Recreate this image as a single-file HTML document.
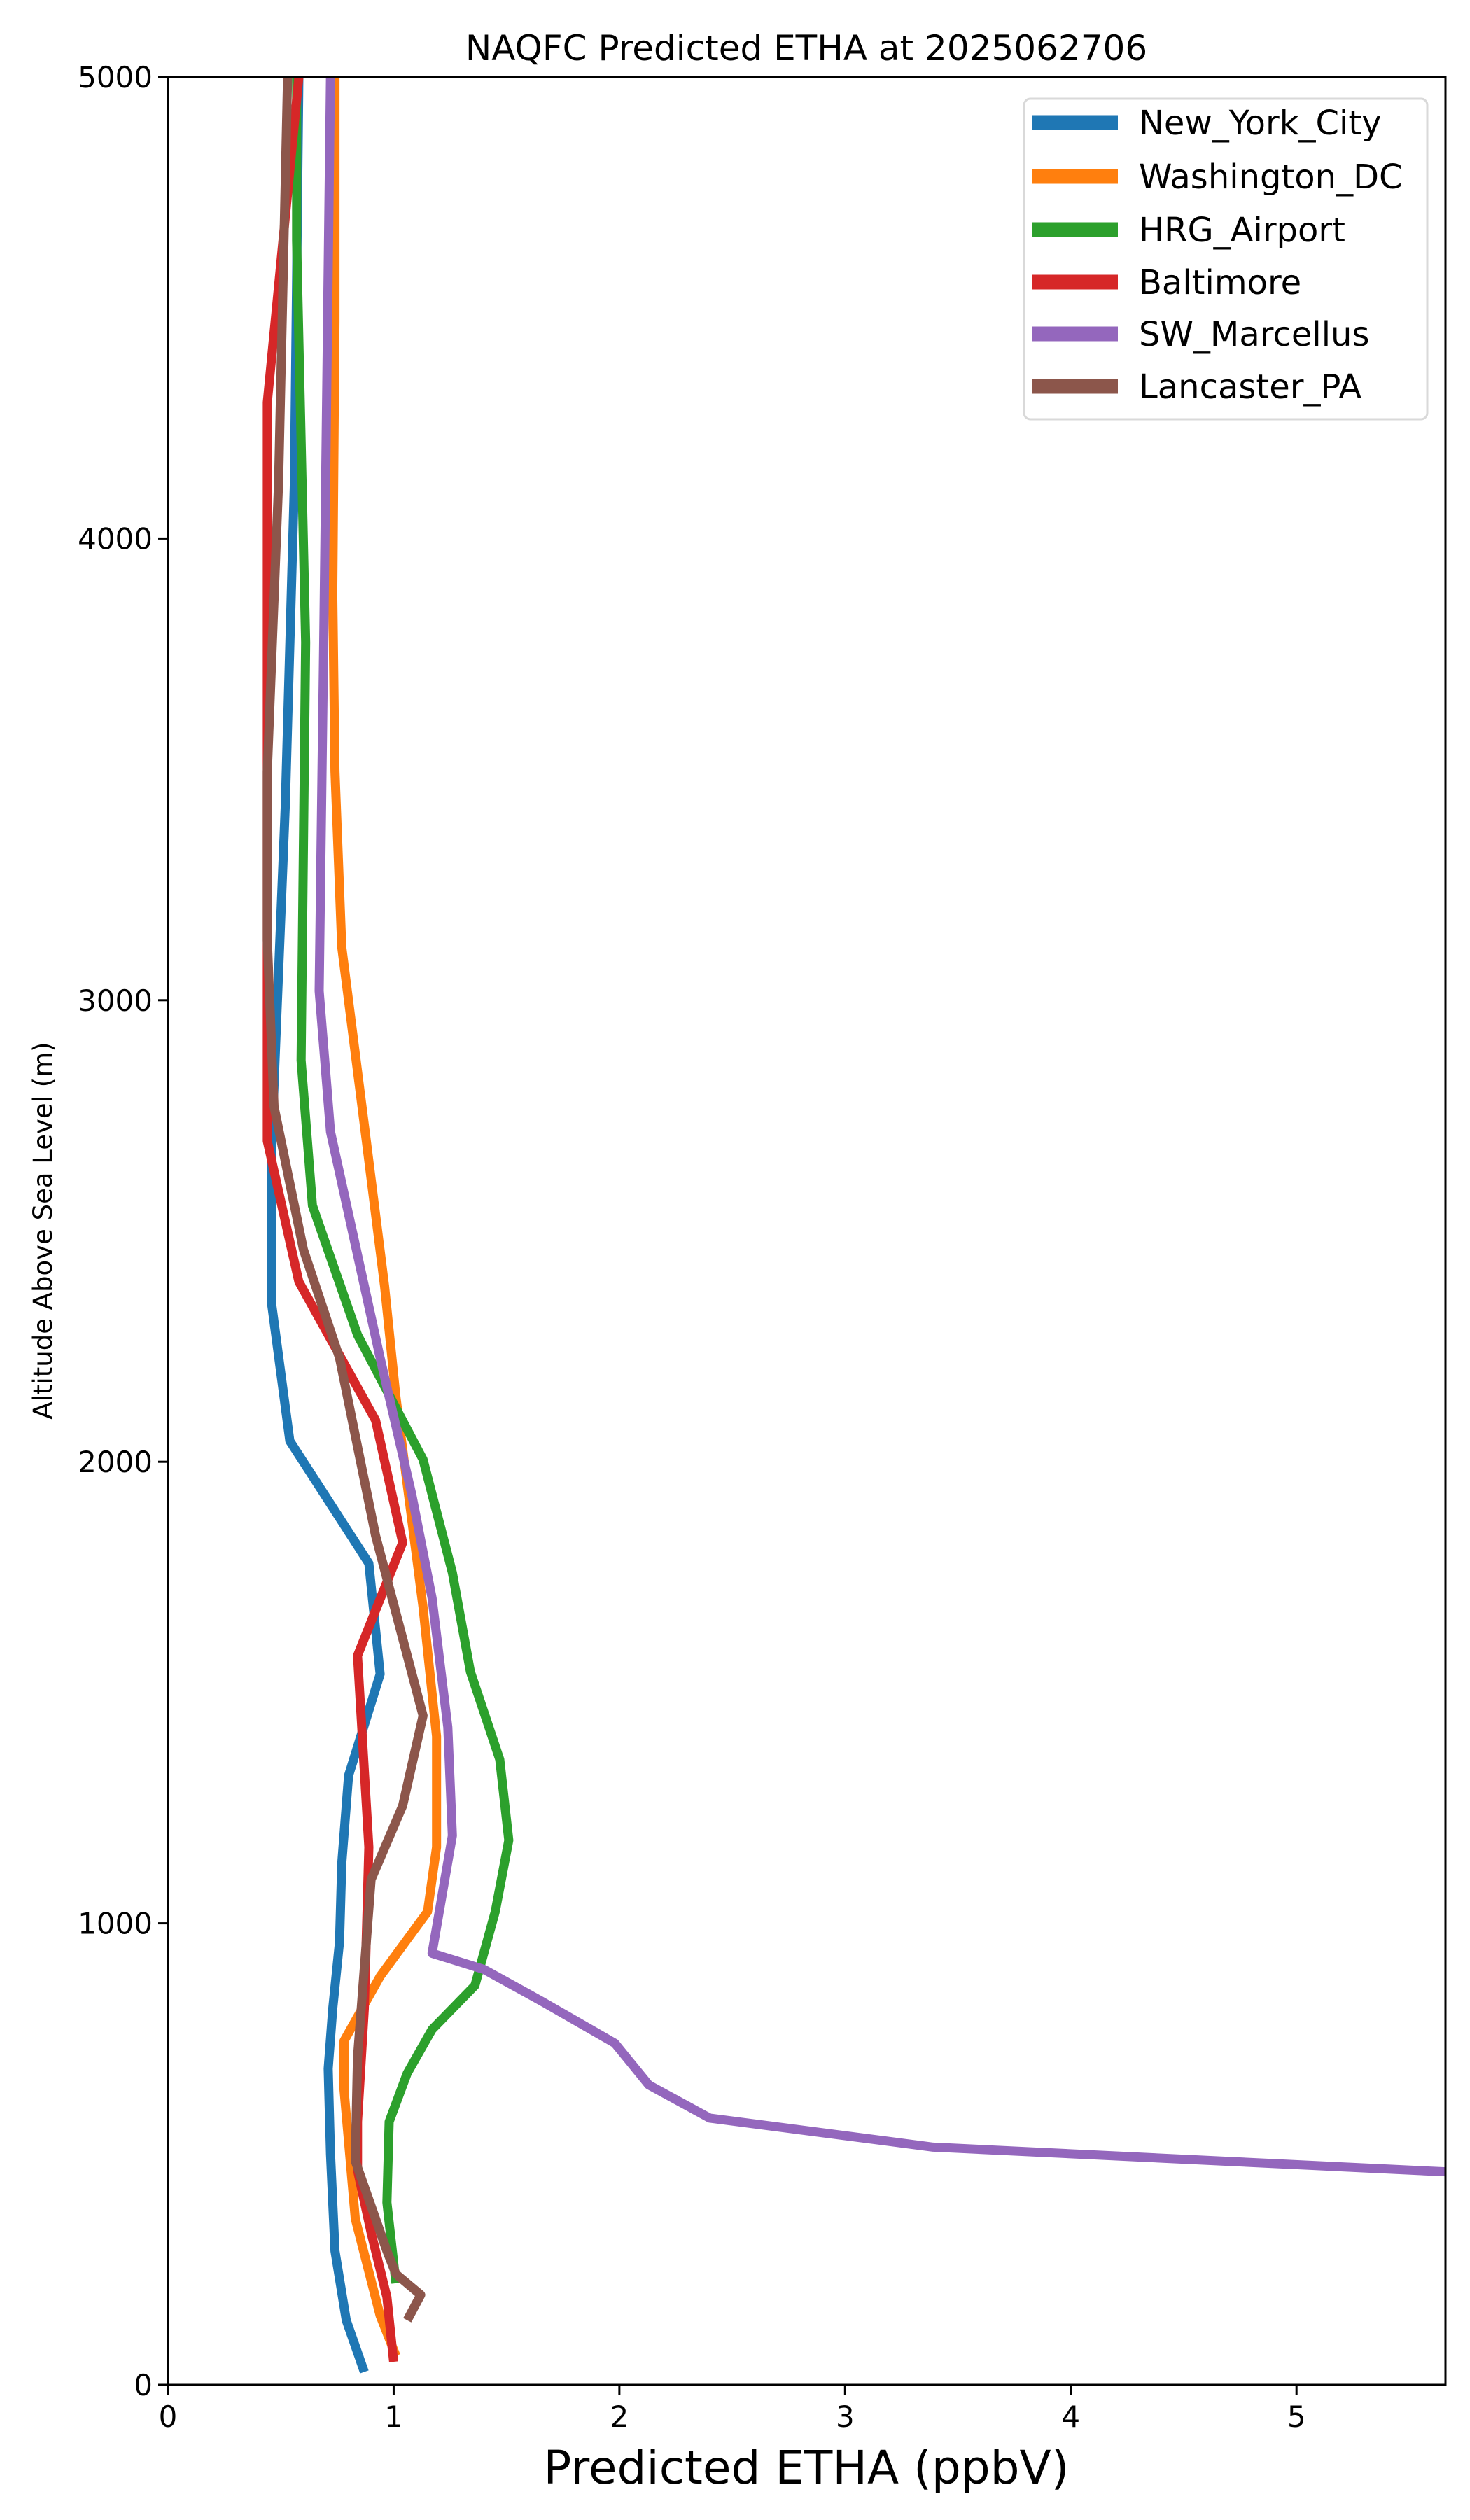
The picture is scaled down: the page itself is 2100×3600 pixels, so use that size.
<!DOCTYPE html>
<html><head><meta charset="utf-8"><style>
html,body{margin:0;padding:0;background:#fff;}
svg{display:block;font-family:"DejaVu Sans","Liberation Sans",sans-serif;}
</style></head><body>
<svg id="chart" width="2100" height="3600" viewBox="0 0 2100 3600" xmlns="http://www.w3.org/2000/svg">
<rect x="0" y="0" width="2100" height="3600" fill="#fff"/>
<defs><clipPath id="plotclip"><rect x="240" y="110" width="1825" height="3297"/></clipPath></defs>
<text x="1152" y="86" font-size="50" text-anchor="middle">NAQFC Predicted ETHA at 2025062706</text>
<g id="series" clip-path="url(#plotclip)"></g>
<g id="axes"></g>
<text x="1152" y="3548" font-size="66" text-anchor="middle">Predicted ETHA (ppbV)</text>
<text x="0" y="0" font-size="37" text-anchor="middle" transform="translate(74,1758) rotate(-90)">Altitude Above Sea Level (m)</text>
<g id="legend"></g>
</svg>
<script>
const seriesNames = ["New_York_City","Washington_DC","HRG_Airport","Baltimore","SW_Marcellus","Lancaster_PA"];
const seriesColors = ["#1f77b4","#ff7f0e","#2ca02c","#d62728","#9467bd","#8c564b"];
const nycX = [0.87,0.79,0.74,0.72,0.71,0.73,0.76,0.77,0.80,0.94,0.89,0.54,0.46,0.46,0.52,0.56,0.58];
const nycY = [28,140,290,500,685,815,960,1130,1320,1540,1780,2045,2340,2695,3425,4120,5000];
const dcX = [1.01,0.94,0.83,0.78,0.78,0.94,1.15,1.19,1.19,1.13,1.01,0.96,0.87,0.77,0.74,0.73,0.74,0.74];
const dcY = [63,150,360,640,745,885,1025,1165,1405,1685,2140,2380,2730,3115,3495,3880,4470,5000];
const hrgX = [1.01,0.97,0.98,1.06,1.17,1.36,1.45,1.51,1.47,1.34,1.26,1.13,0.84,0.64,0.59,0.61,0.57,0.57];
const hrgY = [220,395,570,675,770,865,1025,1180,1355,1545,1760,2005,2275,2555,2870,3775,4645,5000];
const balX = [1.00,0.97,0.90,0.84,0.84,0.87,0.89,0.84,1.04,0.92,0.58,0.44,0.44,0.44,0.58];
const balY = [50,190,330,465,570,815,1165,1580,1825,2090,2390,2695,3080,4295,5000];
const swmX = [7.0,3.39,2.40,2.13,1.98,1.66,1.40,1.17,1.26,1.24,1.17,1.08,0.94,0.72,0.67,0.69,0.72];
const swmY = [430,515,578,650,740,830,900,935,1190,1425,1705,1930,2225,2715,3020,3775,5000];
const lanX = [1.06,1.12,1.01,0.97,0.83,0.84,0.90,1.04,1.13,0.92,0.76,0.60,0.47,0.44,0.44,0.49,0.53];
const lanY = [140,195,240,290,485,710,1095,1255,1450,1840,2225,2460,2770,3130,3495,4120,5000];
const xTicks = [0,1,2,3,4,5];
const yTicks = [0,1000,2000,3000,4000,5000];

const L=240,R=2065,T=110,B=3407,XMAX=5.66,YMAX=5000;
const sx=v=>L+v/XMAX*(R-L);
const sy=v=>B-v/YMAX*(B-T);
const NS="http://www.w3.org/2000/svg";
function mk(tag,attrs,parent){const e=document.createElementNS(NS,tag);for(const k in attrs)e.setAttribute(k,attrs[k]);parent.appendChild(e);return e;}

const allX=[nycX,dcX,hrgX,balX,swmX,lanX], allY=[nycY,dcY,hrgY,balY,swmY,lanY];
const sg=document.getElementById('series');
allX.forEach((xs,i)=>{
  const pts=xs.map((x,j)=>sx(x).toFixed(1)+','+sy(allY[i][j]).toFixed(1)).join(' ');
  const p=mk('polyline',{points:pts,fill:'none',stroke:seriesColors[i],'stroke-width':13,'stroke-linejoin':'round','stroke-linecap':'butt'},sg);
  
  
});

const ax=document.getElementById('axes');
const frame=mk('rect',{x:L,y:T,width:R-L,height:B-T,fill:'none',stroke:'#000','stroke-width':3},ax);


xTicks.forEach(t=>{
  const tk=mk('line',{x1:sx(t),x2:sx(t),y1:B,y2:B+14,stroke:'#000','stroke-width':3},ax);
  
  
  const tl=mk('text',{x:sx(t),y:B+60,'font-size':42,'text-anchor':'middle'},ax);
  tl.textContent=t;
  
  
});
yTicks.forEach(t=>{
  const tk=mk('line',{x1:L-14,x2:L,y1:sy(t),y2:sy(t),stroke:'#000','stroke-width':3},ax);
  
  
  const tl=mk('text',{x:L-22,y:sy(t)+15,'font-size':42,'text-anchor':'end'},ax);
  tl.textContent=t;
  
  
});

const lg=document.getElementById('legend');
const box=mk('rect',{x:1463,y:141,width:576,height:458,rx:9,fill:'#fff','fill-opacity':0.8,stroke:'#d9d9d9','stroke-width':3},lg);


const ey=[175,252,328,403,477,552];
seriesNames.forEach((n,i)=>{
  const ln=mk('line',{x1:1475,x2:1597,y1:ey[i],y2:ey[i],stroke:seriesColors[i],'stroke-width':21},lg);
  
  
  const tx=mk('text',{x:1627,y:ey[i]+17,'font-size':48},lg);
  tx.textContent=n;
  
  
});
</script>
</body></html>
